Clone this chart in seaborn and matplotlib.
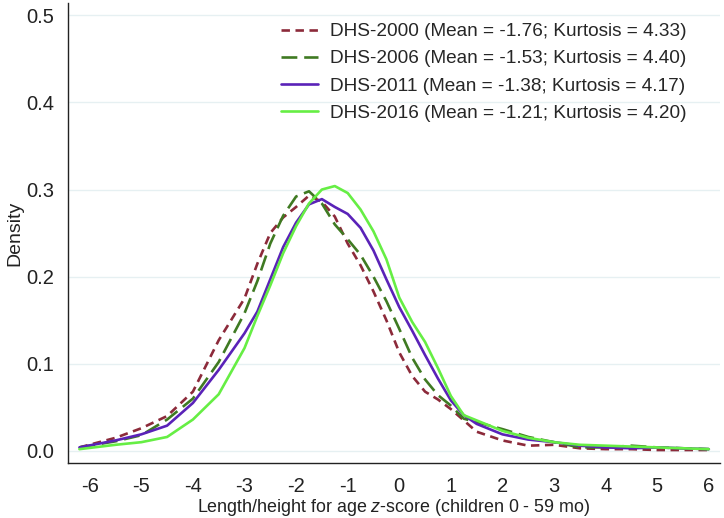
import matplotlib
matplotlib.use('Agg')
import matplotlib.pyplot as plt
import seaborn as sns
import pandas as pd

# z-score grid and density values
z = [-6.2, -5.5, -5.0, -4.5, -4.0, -3.5, -3.0, -2.75, -2.5, -2.25, -2.0, -1.75,
     -1.5, -1.25, -1.0, -0.75, -0.5, -0.25, 0.0, 0.25, 0.5, 0.75, 1.0, 1.25,
     1.5, 2.0, 2.5, 3.0, 3.5, 4.0, 4.5, 5.0, 5.5, 6.0]

dhs2000 = [0.004, 0.015, 0.026, 0.040, 0.068, 0.127, 0.175, 0.215, 0.250, 0.268,
           0.280, 0.293, 0.286, 0.269, 0.238, 0.213, 0.183, 0.150, 0.113, 0.086,
           0.068, 0.059, 0.048, 0.035, 0.022, 0.012, 0.006, 0.007, 0.003, 0.002,
           0.002, 0.001, 0.001, 0.001]
dhs2006 = [0.004, 0.011, 0.018, 0.036, 0.060, 0.102, 0.158, 0.195, 0.238, 0.270,
           0.292, 0.298, 0.284, 0.260, 0.243, 0.225, 0.200, 0.172, 0.140, 0.107,
           0.082, 0.064, 0.052, 0.037, 0.033, 0.025, 0.016, 0.010, 0.004, 0.004,
           0.006, 0.004, 0.003, 0.002]
dhs2011 = [0.004, 0.012, 0.019, 0.029, 0.055, 0.093, 0.135, 0.160, 0.197, 0.234,
           0.262, 0.283, 0.289, 0.280, 0.272, 0.256, 0.230, 0.197, 0.165, 0.138,
           0.110, 0.083, 0.058, 0.041, 0.031, 0.019, 0.013, 0.010, 0.006, 0.004,
           0.003, 0.004, 0.003, 0.002]
dhs2016 = [0.002, 0.007, 0.010, 0.016, 0.036, 0.065, 0.118, 0.155, 0.190, 0.227,
           0.258, 0.284, 0.300, 0.304, 0.296, 0.277, 0.252, 0.220, 0.176, 0.148,
           0.125, 0.095, 0.063, 0.041, 0.035, 0.023, 0.015, 0.010, 0.007, 0.006,
           0.005, 0.004, 0.003, 0.002]

labels = ['DHS-2000 (Mean = -1.76; Kurtosis = 4.33)',
          'DHS-2006 (Mean = -1.53; Kurtosis = 4.40)',
          'DHS-2011 (Mean = -1.38; Kurtosis = 4.17)',
          'DHS-2016 (Mean = -1.21; Kurtosis = 4.20)']
colors = ['#8c2a3a', '#3f7a22', '#5a22b8', '#66ee44']
styles = [(0, (3.2, 2.1)), (0, (6.0, 2.6)), '-', '-']
series = [dhs2000, dhs2006, dhs2011, dhs2016]

sns.set_style('white')
plt.rcParams['font.family'] = ['Liberation Sans', 'DejaVu Sans']
plt.rcParams['axes.unicode_minus'] = False
plt.rcParams['mathtext.fontset'] = 'custom'
plt.rcParams['mathtext.rm'] = 'Liberation Sans'
plt.rcParams['mathtext.it'] = 'Liberation Sans:italic'

fig = plt.figure(figsize=(7.24, 5.18), dpi=100)
ax = fig.add_axes([0.094, 0.106, 0.9, 0.888])

for vals, lab, col, ls in zip(series, labels, colors, styles):
    df = pd.DataFrame({'z': z, 'density': vals})
    sns.lineplot(data=df, x='z', y='density', ax=ax, color=col,
                 linestyle=ls, linewidth=1.9, label=lab)

ax.set_xlim(-6.42, 6.21)
ax.set_ylim(-0.014, 0.514)
ax.set_xticks(range(-6, 7))
ax.set_yticks([0.0, 0.1, 0.2, 0.3, 0.4, 0.5])
ax.set_yticklabels(['0.0', '0.1', '0.2', '0.3', '0.4', '0.5'])
ax.yaxis.grid(True, color='#e6f0f2', linewidth=1.0)
ax.xaxis.grid(False)
ax.set_axisbelow(True)

for side in ['top', 'right']:
    ax.spines[side].set_visible(False)
for side in ['left', 'bottom']:
    ax.spines[side].set_color('#222222')
    ax.spines[side].set_linewidth(1.0)

ax.tick_params(axis='both', direction='out', length=6, width=1.0,
               color='#222222', labelsize=14.5, labelcolor='#222222', pad=4)

ax.set_xlabel('Length/height for age $\\mathit{z}$-score (children 0 - 59 mo)',
              fontsize=12.85, color='#222222', labelpad=1)
ax.set_ylabel('Density', fontsize=14, color='#222222', labelpad=2)

ax.legend(loc='upper right', frameon=False, fontsize=13.7, handlelength=1.95,
          handletextpad=0.65, labelspacing=0.52, borderaxespad=0.3,
          bbox_to_anchor=(0.97, 0.986))

fig.savefig('out.png', dpi=100)
